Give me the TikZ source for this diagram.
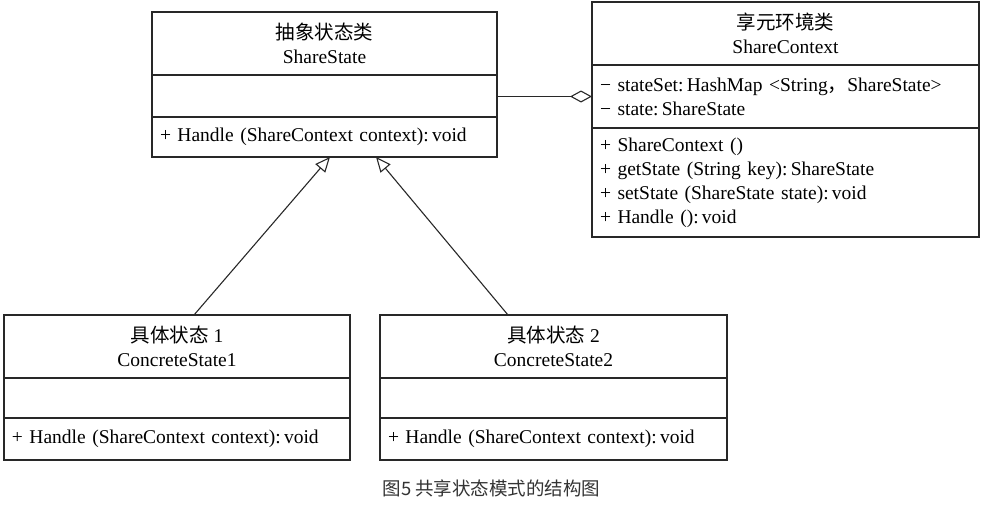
\documentclass[tikz,border=0pt]{standalone}
\usepackage{fontspec}
\setmainfont{Liberation Serif}
\newfontfamily\cjk{Noto Sans CJK SC}
\usepackage{tikz}
\usetikzlibrary{arrows.meta,positioning,calc}
\definecolor{umlline}{RGB}{40,40,40}
\definecolor{capgray}{RGB}{51,51,51}

\begin{document}
\begin{tikzpicture}[x=1pt, y=1pt,
    classtitle/.style={draw=umlline, line width=1.1pt, outer sep=0pt, inner sep=0pt,
                       minimum height=63pt, align=center, font=\fontsize{19.5}{24}\selectfont},
    compart/.style={draw=umlline, line width=1.1pt, outer sep=0pt, inner xsep=8pt, inner ysep=0pt,
                    align=left, font=\fontsize{19.5}{24}\selectfont},
    inherit/.style={-{Triangle[open, length=15pt, width=13pt]}, line width=1.1pt, umlline},
    aggr/.style={{Diamond[open, length=22pt, width=12pt]}-, line width=1.1pt, umlline}
]
    \useasboundingbox (0,0) rectangle (984,-506);

    % abstract state
    \node[classtitle, minimum width=345pt, anchor=north west] (state) at (152,-12) {{\cjk 抽象状态类}\\ShareState};
    \node[compart, text width=329pt, minimum height=42pt, below=0pt of state] (stateattr) {};
    \node[compart, text width=329pt, minimum height=40pt, below=0pt of stateattr] (stateop) {+ Handle (ShareContext context):\,void};

    % flyweight context
    \node[classtitle, minimum width=387pt, anchor=north west] (ctx) at (592,-2) {{\cjk 享元环境类}\\ShareContext};
    \node[compart, text width=371pt, minimum height=63pt, below=0pt of ctx] (ctxattr) {− stateSet:\,HashMap <String{\cjk ，}ShareState>\\− state:\,ShareState};
    \node[compart, text width=371pt, minimum height=109pt, below=0pt of ctxattr] (ctxop) {+ ShareContext ()\\+ getState (String key):\,ShareState\\+ setState (ShareState state):\,void\\+ Handle ():\,void};

    % concrete states
    \node[classtitle, minimum width=346pt, anchor=north west] (conc1) at (4,-315) {{\cjk 具体状态} 1\\ConcreteState1};
    \node[compart, text width=330pt, minimum height=40pt, below=0pt of conc1] (conc1attr) {};
    \node[compart, text width=330pt, minimum height=42pt, below=0pt of conc1attr] (conc1op) {+ Handle (ShareContext context):\,void};

    \node[classtitle, minimum width=347pt, anchor=north west] (conc2) at (380,-315) {{\cjk 具体状态} 2\\ConcreteState2};
    \node[compart, text width=331pt, minimum height=40pt, below=0pt of conc2] (conc2attr) {};
    \node[compart, text width=331pt, minimum height=42pt, below=0pt of conc2attr] (conc2op) {+ Handle (ShareContext context):\,void};

    \draw[aggr] (ctxattr.west) -- (ctxattr.west -| stateattr.east);
    \draw[inherit] ($(conc1.north)+(17,0)$) -- ($(stateop.south)+(5.5,0)$);
    \draw[inherit] ($(conc2.north)+(-45.5,0)$) -- ($(stateop.south)+(51.5,0)$);

    \node[font=\cjk\fontsize{18.5}{20}\selectfont, text=capgray] (caption) at (491.5,-488) {图5 共享状态模式的结构图};
\end{tikzpicture}
\end{document}
